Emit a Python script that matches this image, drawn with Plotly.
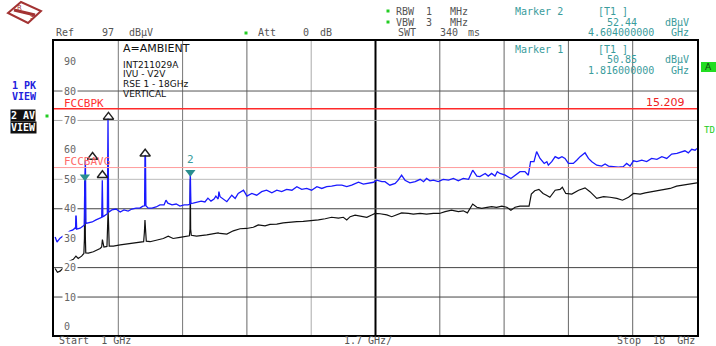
import plotly.graph_objects as go

# ---------------- sweep settings ----------------
start_ghz = 1.0
stop_ghz = 18.0
span_per_div = 1.7
ref_level = 97.0
bottom_level = -2.9

# ---------------- trace 1: peak (max hold), dBµV ----------------
pk_freq = [
    1.03, 1.08, 1.16, 1.24, 1.32, 1.42, 1.50, 1.55, 1.57, 1.58, 1.60, 1.69, 1.77, 1.80,
    1.816, 1.83, 1.845, 1.90, 2.01, 2.11, 2.22, 2.262, 2.277, 2.292, 2.32, 2.41, 2.428,
    2.445, 2.53, 2.64, 2.75, 2.85, 2.96, 3.06, 3.17, 3.27, 3.35, 3.395, 3.405, 3.418,
    3.43, 3.49, 3.59, 3.70, 3.80, 3.91, 3.96, 4.01, 4.12, 4.23, 4.33, 4.44, 4.54, 4.59,
    4.604, 4.618, 4.68, 4.78, 4.89, 4.99, 5.07, 5.15, 5.23, 5.28, 5.34, 5.36, 5.39, 5.57,
    5.70, 5.79, 5.87, 6.01, 6.10, 6.23, 6.36, 6.49, 6.62, 6.76, 6.89, 7.02, 7.15, 7.29,
    7.42, 7.55, 7.68, 7.81, 7.95, 8.08, 8.21, 8.34, 8.48, 8.61, 8.74, 8.87, 9.05, 9.18,
    9.31, 9.45, 9.53, 9.67, 9.75, 9.88, 10.02, 10.10, 10.19, 10.28, 10.41, 10.55, 10.68,
    10.77, 10.85, 10.94, 11.03, 11.16, 11.29, 11.43, 11.56, 11.69, 11.82, 11.96, 12.07,
    12.18, 12.26, 12.40, 12.48, 12.57, 12.66, 12.72, 12.79, 12.93, 13.08, 13.19, 13.32,
    13.45, 13.54, 13.60, 13.69, 13.76, 13.85, 13.96, 14.03, 14.07, 14.16, 14.25, 14.34,
    14.43, 14.51, 14.60, 14.73, 14.82, 14.91, 15.04, 15.13, 15.22, 15.35, 15.48, 15.57,
    15.66, 15.79, 15.92, 16.05, 16.14, 16.23, 16.32, 16.41, 16.54, 16.67, 16.80, 16.94,
    17.07, 17.20, 17.33, 17.47, 17.60, 17.68, 17.77, 17.86, 17.95, 18.00,
]
pk_level = [
    30.4, 28.7, 30.0, 30.7, 31.7, 32.4, 32.8, 33.4, 33.2, 39.6, 33.1, 33.4, 34.1, 34.5,
    50.85, 56.5, 35.0, 35.1, 35.5, 36.2, 36.8, 37.1, 49.7, 37.3, 37.5, 38.3, 70.7,
    38.8, 39.6, 39.9, 38.9, 39.6, 39.2, 39.9, 40.2, 40.2, 40.9, 41.0, 58.2, 58.0,
    41.0, 40.2, 40.2, 40.6, 41.3, 41.3, 42.9, 41.9, 41.3, 41.6, 40.9, 41.3, 41.3, 41.5,
    52.44, 41.8, 41.9, 42.3, 42.6, 42.3, 43.6, 42.6, 43.3, 44.3, 43.3, 45.8, 44.1, 42.4,
    44.6, 43.5, 45.2, 46.3, 44.3, 45.2, 44.6, 45.8, 46.3, 45.4, 46.3, 45.8, 46.6, 46.3,
    47.5, 46.6, 46.9, 46.3, 47.5, 46.9, 47.5, 47.7, 48.0, 48.0, 47.5, 48.0, 49.0, 48.4,
    48.6, 49.0, 49.7, 49.2, 49.2, 48.0, 48.6, 49.7, 51.4, 49.7, 48.8, 49.2, 50.0,
    49.2, 50.3, 49.5, 49.7, 49.2, 50.0, 49.7, 50.3, 49.5, 50.3, 50.0, 53.1,
    51.1, 50.9, 52.0, 51.1, 52.0, 51.1, 52.6, 52.0, 51.4, 50.3, 51.4, 52.6,
    52.6, 51.4, 56.0, 56.0, 59.4, 57.1, 55.4, 56.0, 54.8, 56.0, 57.7, 57.1,
    57.7, 57.1, 55.4, 55.4, 56.5, 57.7, 59.0, 57.1, 56.0, 54.8, 54.5, 55.2,
    54.5, 54.3, 54.1, 54.3, 55.4, 54.5, 56.3, 56.0, 56.5, 56.0, 57.1, 56.8,
    57.7, 57.1, 58.6, 58.8, 59.4, 59.7, 59.0, 60.2, 59.9, 60.5,
]

# ---------------- trace 2: average, dBµV ----------------
av_freq = [
    1.03, 1.09, 1.16, 1.24, 1.32, 1.38, 1.51, 1.58, 1.64, 1.73, 1.77, 1.79, 1.805, 1.816,
    1.83, 1.84, 1.91, 2.04, 2.22, 2.26, 2.28, 2.30, 2.32, 2.40, 2.42, 2.43, 2.44, 2.46,
    2.57, 2.75, 2.92, 3.10, 3.27, 3.37, 3.39, 3.405, 3.42, 3.44, 3.54, 3.72, 3.89, 4.02,
    4.15, 4.33, 4.51, 4.58, 4.595, 4.604, 4.613, 4.63, 4.77, 5.04, 5.21, 5.34, 5.39, 5.57,
    5.74, 5.92, 6.09, 6.27, 6.40, 6.58, 6.71, 6.89, 7.06, 7.24, 7.42, 7.59, 7.81, 7.99,
    8.17, 8.34, 8.52, 8.65, 8.74, 8.83, 8.96, 9.14, 9.27, 9.40, 9.49, 9.62, 9.80, 9.93,
    10.06, 10.19, 10.37, 10.50, 10.68, 10.85, 11.03, 11.19, 11.34, 11.51, 11.69, 11.82,
    11.93, 12.00, 12.07, 12.18, 12.31, 12.45, 12.57, 12.70, 12.84, 12.97, 13.08, 13.19,
    13.32, 13.50, 13.56, 13.62, 13.71, 13.82, 13.93, 14.02, 14.11, 14.25, 14.38, 14.44,
    14.53, 14.69, 14.87, 15.04, 15.17, 15.35, 15.53, 15.70, 15.88, 16.03, 16.19, 16.32,
    16.50, 16.63, 16.80, 16.97, 17.15, 17.29, 17.46, 17.64, 17.82, 18.00,
]
av_level = [
    19.7, 18.4, 18.8, 19.8, 20.9, 22.0, 22.8, 23.9, 23.1, 23.9, 24.6, 24.8, 30.0, 49.5,
    30.0, 25.0, 24.9, 25.4, 26.5, 27.0, 29.5, 28.5, 27.0, 27.2, 35.0, 39.2, 36.0, 27.3,
    27.3, 27.7, 28.0, 28.4, 28.7, 28.8, 32.0, 36.2, 33.0, 29.0, 28.8, 29.4, 29.9, 30.7,
    29.9, 30.3, 30.7, 30.8, 33.0, 50.0, 33.0, 31.0, 30.7, 31.1, 31.6, 31.8, 31.6, 31.4,
    32.5, 33.2, 33.3, 33.7, 34.5, 34.2, 34.7, 34.8, 35.2, 35.5, 35.6, 35.7, 35.9, 36.2,
    36.6, 37.1, 36.8, 37.1, 36.2, 37.3, 37.8, 37.5, 37.1, 37.9, 38.4, 38.3, 37.9, 37.3,
    37.9, 38.6, 38.4, 38.2, 38.4, 38.2, 38.4, 38.4, 39.0, 39.5, 39.0, 39.3,
    38.6, 40.1, 41.6, 40.5, 40.1, 40.5, 40.7, 40.5, 40.9, 40.5, 39.5, 40.5,
    40.9, 40.9, 40.9, 45.0, 46.1, 46.6, 45.2, 44.6, 43.9, 46.3, 46.6, 47.3,
    45.2, 45.0, 46.3, 47.1, 45.8, 43.5, 44.1, 43.9, 43.5, 42.9, 43.9, 45.2,
    45.0, 45.4, 45.8, 46.1, 46.6, 46.9, 47.7, 48.0, 48.3, 48.8,
]

# ---------------- limit lines (FCC 15.209) ----------------
limit_freq = [1.0, 18.0]
limit_pk = [74.0, 74.0]
limit_avg = [54.0, 54.0]

# ---------------- markers ----------------
marker_freq = [1.816, 4.604]
marker_level = [50.85, 52.44]
marker_freq_text = ["1.816000000", "4.604000000"]
marker_level_text = ["50.85", "52.44"]

peak_list_freq = [2.02, 2.28, 2.44, 3.41]
peak_list_level = [57.6, 51.4, 71.2, 58.7]

y_tick_vals = [0, 10, 20, 30, 40, 50, 60, 70, 80, 90]

# ---------------- screen geometry (pixels) ----------------
W, H = 716, 346
PL, PR, PT, PB = 54, 697, 41, 335


def px(xp):
    return (xp - PL) / (PR - PL)


def py(yp):
    return (PB - yp) / (PB - PT)


MONO = "DejaVu Sans Mono"
SANS = "DejaVu Sans"
TEAL = "#3a9c9c"
GRAY = "#555555"

fig = go.Figure()

# average trace (black) and peak trace (blue)
fig.add_trace(go.Scatter(x=av_freq, y=av_level, mode="lines",
                         line=dict(color="#111111", width=1.2), hoverinfo="skip"))
fig.add_trace(go.Scatter(x=pk_freq, y=pk_level, mode="lines",
                         line=dict(color="#1a1aff", width=1.3), hoverinfo="skip"))

# limit lines
fig.add_trace(go.Scatter(x=limit_freq, y=limit_pk, mode="lines",
                         line=dict(color="#ff2a2a", width=1.5), hoverinfo="skip"))
fig.add_trace(go.Scatter(x=limit_freq, y=limit_avg, mode="lines",
                         line=dict(color="#ff9c9c", width=1), hoverinfo="skip"))

# peak-list markers
fig.add_trace(go.Scatter(x=peak_list_freq, y=peak_list_level, mode="markers",
                         marker=dict(symbol="triangle-up-open", size=9,
                                     color="#222222", line=dict(width=1.4)),
                         hoverinfo="skip"))

# trace markers 1 and 2
fig.add_trace(go.Scatter(x=marker_freq, y=marker_level, mode="markers",
                         marker=dict(symbol="triangle-down", size=9, color="#2a8f8f"),
                         hoverinfo="skip"))

shapes = []
# vertical graticule
v_colors = ["#777777", "#777777", "#666666", "#aaaaaa", "#000000",
            "#666666", "#666666", "#666666", "#666666"]
for k, c in enumerate(v_colors, start=1):
    xv = start_ghz + k * span_per_div
    shapes.append(dict(type="line", xref="x", yref="y domain", x0=xv, x1=xv, y0=0, y1=1,
                       line=dict(color=c, width=2 if c == "#000000" else 1), layer="below"))
# horizontal graticule
h_lines = {80: "#555555", 70: "#aaaaaa", 50: "#bbbbbb", 40: "#444444",
           20: "#444444", 10: "#444444"}
for lv, c in h_lines.items():
    shapes.append(dict(type="line", xref="x domain", yref="y", x0=0, x1=1, y0=lv, y1=lv,
                       line=dict(color=c, width=1), layer="below"))

# green status dots
for (gx, gy) in [(246, 33), (388, 11), (388, 22), (47, 116)]:
    shapes.append(dict(type="rect", xref="paper", yref="paper",
                       x0=px(gx - 1.5), x1=px(gx + 1.5), y0=py(gy + 1.5), y1=py(gy - 1.5),
                       fillcolor="#22cc22", line=dict(width=0)))

# green indicator box at the right edge
shapes.append(dict(type="rect", xref="paper", yref="paper",
                   x0=px(701), x1=px(716), y0=py(72), y1=py(62),
                   fillcolor="#22dd22", line=dict(width=0)))

# R&S logo (diamond)
logo = [(8, 13), (21, 2), (41, 11), (28, 23)]
path = "M " + " L ".join(f"{px(a)},{py(b)}" for a, b in logo) + " Z"
shapes.append(dict(type="path", xref="paper", yref="paper", path=path,
                   line=dict(color="#a33333", width=2), fillcolor="rgba(0,0,0,0)"))
shapes.append(dict(type="line", xref="paper", yref="paper",
                   x0=px(14), y0=py(10), x1=px(35), y1=py(15),
                   line=dict(color="#a33333", width=3)))

annotations = []


def note(text, xp, yp, color=GRAY, size=10, family=MONO, anchor="left", **kw):
    annotations.append(dict(text=text, xref="paper", yref="paper", x=px(xp), y=py(yp),
                            xanchor=anchor, yanchor="middle", showarrow=False,
                            font=dict(family=family, size=size, color=color), **kw))


# header: instrument settings
note("Ref", 54, 33)
note("97", 100, 33)
note("dBµV", 127, 33)
note("Att", 256, 33)
note("0", 301, 33)
note("dB", 318, 33)
note("RBW", 394, 11)
note("1", 424, 11)
note("MHz", 448, 11)
note("VBW", 394, 22)
note("3", 424, 22)
note("MHz", 448, 22)
note("SWT", 396, 33)
note("340", 438, 33)
note("ms", 466, 33)

# header: marker readouts
for (yl, yv, yf, idx, name) in [(11, 22, 33, 1, "Marker 2"), (49, 60, 70, 0, "Marker 1")]:
    note(name, 513, yl, color=TEAL)
    note("[T1 ]", 596, yl, color=TEAL)
    note(marker_level_text[idx], 639, yv, color=TEAL, anchor="right")
    note("dBµV", 691, yv, color=TEAL, anchor="right")
    note(marker_freq_text[idx], 656, yf, color=TEAL, anchor="right")
    note("GHz", 691, yf, color=TEAL, anchor="right")

# logo letters
note("R", 15, 8, color="#a33333", size=7, family=SANS)
note("S", 28, 17, color="#a33333", size=7, family=SANS)

# trace view labels
note("<b>1 PK</b>", 10, 85.5, color="#2222dd", size=10)
note("<b>VIEW</b>", 10, 96.5, color="#2222dd", size=10)
note("<b>2 AV</b>", 10, 116, color="#ffffff", size=10, bgcolor="#111111", borderpad=0)
note("<b>VIEW</b>", 10, 127, color="#ffffff", size=10, bgcolor="#111111", borderpad=0)

# right edge indicators
note("A", 708, 67, color="#114411", size=9, family=SANS, anchor="center")
note("TD", 702, 130, color="#22cc22", size=9)

# test description
note("A=AMBIENT", 121, 48, color="#111111", size=11, family=SANS)
for txt, yy in [("INT211029A", 65), ("IVU - V2V", 74.5),
                ("RSE 1 - 18GHz", 84), ("VERTICAL", 93.5)]:
    note(txt, 121, yy, color="#111111", size=9, family=SANS)

# level scale labels inside the graticule
for v in y_tick_vals:
    annotations.append(dict(text=str(v), xref="x domain", yref="y", x=0.013, y=v,
                            xanchor="left", yanchor="middle", showarrow=False,
                            bgcolor="#ffffff", borderpad=1,
                            font=dict(family=MONO, size=10, color="#666666")))

# limit line labels
annotations.append(dict(text="FCCBPK", xref="x domain", yref="y", x=0.013, y=limit_pk[0],
                        xanchor="left", yanchor="middle", yshift=5.5, showarrow=False,
                        font=dict(family=MONO, size=11, color="#ff3030")))
annotations.append(dict(text="FCCBAVG", xref="x domain", yref="y", x=0.013, y=limit_avg[0],
                        xanchor="left", yanchor="middle", yshift=6, showarrow=False,
                        font=dict(family=MONO, size=11, color="#ff6a6a")))
annotations.append(dict(text="15.209", xref="x domain", yref="y", x=0.985, y=limit_pk[0],
                        xanchor="right", yanchor="middle", yshift=6, showarrow=False,
                        font=dict(family=SANS, size=11, color="#ee2222")))

# marker number
annotations.append(dict(text="2", x=marker_freq[1], y=marker_level[1], xref="x", yref="y",
                        yshift=13, showarrow=False,
                        font=dict(family=MONO, size=11, color=TEAL)))

# span labels
note(f"Start  {start_ghz:g} GHz", 57, 340.5)
note(f"{span_per_div:g} GHz/", 342, 340.5)
note(f"Stop  {stop_ghz:g}  GHz", 697, 340.5, anchor="right")

fig.update_layout(
    width=W, height=H,
    margin=dict(l=PL, r=W - PR, t=PT, b=H - PB, pad=0),
    paper_bgcolor="#ffffff", plot_bgcolor="#ffffff",
    showlegend=False,
    shapes=shapes, annotations=annotations,
    xaxis=dict(range=[start_ghz, stop_ghz], showgrid=False, zeroline=False,
               showticklabels=False, ticks="", showline=True, mirror=True,
               linecolor="#000000", linewidth=2, fixedrange=True),
    yaxis=dict(range=[bottom_level, ref_level], showgrid=False, zeroline=False,
               showticklabels=False, ticks="", showline=True, mirror=True,
               linecolor="#000000", linewidth=2, fixedrange=True),
)

fig.write_html("out.html", config={"displayModeBar": False})
